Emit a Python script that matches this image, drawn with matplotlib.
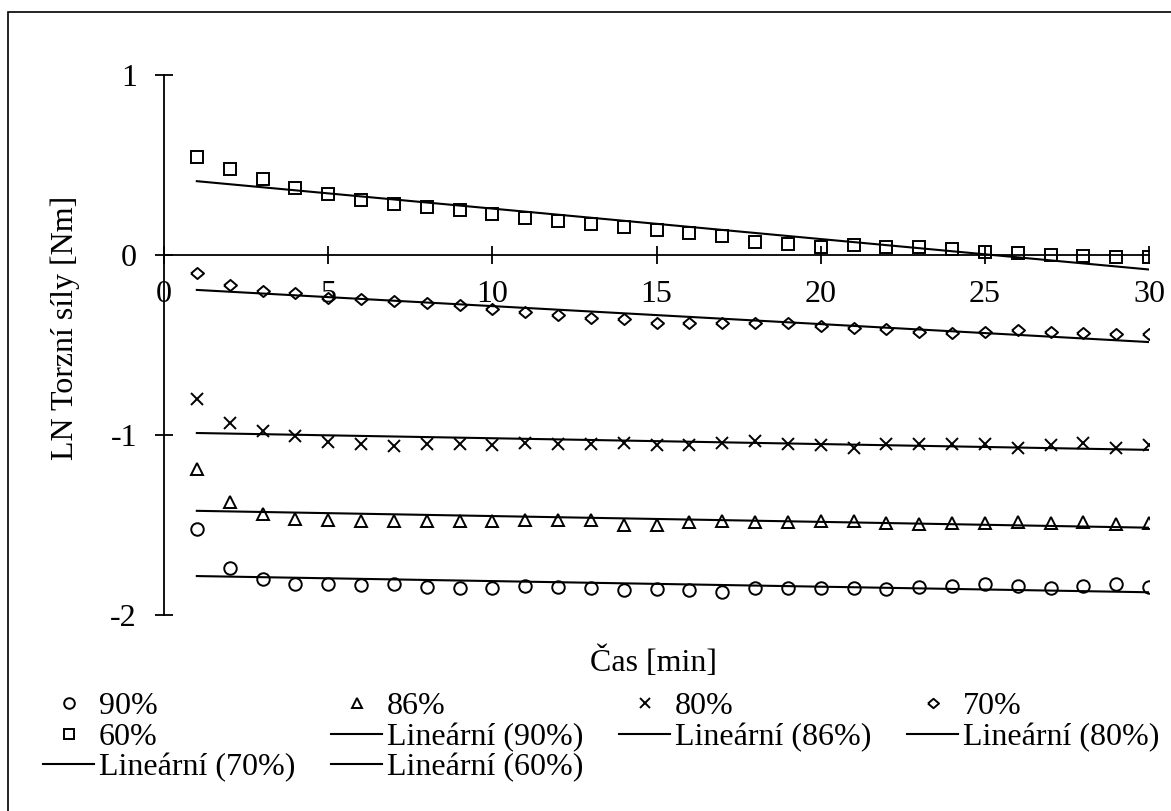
import numpy as np
import matplotlib
matplotlib.use("Agg")
from matplotlib import pyplot as plt
from matplotlib import patches

plt.rcParams['font.family'] = ['Liberation Serif', 'DejaVu Serif']
plt.rcParams['axes.unicode_minus'] = False

# time axis, minutes
cas = list(range(1, 31))

# LN of torsion force
s90 = [-1.52, -1.737, -1.80, -1.83, -1.825, -1.835, -1.83, -1.843, -1.848, -1.848,
       -1.84, -1.843, -1.848, -1.86, -1.857, -1.86, -1.872, -1.848, -1.85, -1.848,
       -1.848, -1.857, -1.843, -1.84, -1.83, -1.84, -1.848, -1.84, -1.83, -1.843]
s86 = [-1.19, -1.37, -1.44, -1.468, -1.474, -1.48, -1.477, -1.48, -1.48, -1.48,
       -1.474, -1.474, -1.474, -1.50, -1.50, -1.483, -1.477, -1.483, -1.483, -1.48,
       -1.48, -1.487, -1.494, -1.487, -1.487, -1.485, -1.487, -1.485, -1.494, -1.49]
s80 = [-0.80, -0.935, -0.98, -1.005, -1.037, -1.05, -1.06, -1.05, -1.05, -1.055,
       -1.046, -1.05, -1.05, -1.046, -1.055, -1.055, -1.044, -1.034, -1.05, -1.055,
       -1.07, -1.05, -1.05, -1.05, -1.05, -1.07, -1.055, -1.046, -1.07, -1.055]
s70 = [-0.098, -0.167, -0.20, -0.213, -0.237, -0.246, -0.256, -0.268, -0.28, -0.298,
       -0.317, -0.335, -0.348, -0.357, -0.376, -0.376, -0.376, -0.376, -0.38, -0.394,
       -0.404, -0.413, -0.428, -0.435, -0.428, -0.417, -0.428, -0.435, -0.44, -0.44]
s60 = [0.547, 0.48, 0.42, 0.37, 0.337, 0.306, 0.285, 0.267, 0.25, 0.226,
       0.208, 0.189, 0.17, 0.158, 0.139, 0.124, 0.106, 0.074, 0.06, 0.047,
       0.054, 0.047, 0.047, 0.032, 0.017, 0.009, 0.0, -0.006, -0.01, -0.01]

labels = ['90%', '86%', '80%', '70%', '60%']
series = [s90, s86, s80, s70, s60]

# flat diamond like the Excel one
diamond = [(-1, 0), (0, 0.85), (1, 0), (0, -0.85), (-1, 0)]
markers = ['o', '^', 'x', diamond, 's']
msizes = [9.0, 8.7, 9.0, 9.4, 8.9]

W, H = 1171, 811
fig = plt.figure(figsize=(W / 100, H / 100), dpi=100)
ax = fig.add_axes([164 / W, 1 - 615 / H, (1149 - 164) / W, (615 - 75) / H])

x = np.array(cas, dtype=float)
pts = {}
fits = {}
for lab, ys, m, ms in zip(labels, series, markers, msizes):
    pts[lab], = ax.plot(x, ys, linestyle='none', marker=m, ms=ms,
                        mfc='none', mec='black', mew=1.4, label=lab)
    k, q = np.polyfit(x, ys, 1)
    xx = np.array([x[0], x[-1]])
    fits[lab], = ax.plot(xx, k * xx + q, color='black', lw=1.5,
                         label='Lineární (%s)' % lab)

ax.set_xlim(0, 30)
ax.set_ylim(-2, 1)
ax.set_xticks(range(0, 31, 5))
ax.set_yticks([-2, -1, 0, 1])
ax.set_yticklabels(['-2', '-1', '0', '1'])

for side in ['top', 'right']:
    ax.spines[side].set_visible(False)
ax.spines['bottom'].set_position(('data', 0))
ax.spines['bottom'].set_zorder(1)
for side in ['left', 'bottom']:
    ax.spines[side].set_linewidth(1.3)
ax.tick_params(axis='both', direction='inout', length=13, width=1.3,
               labelsize=23)
ax.tick_params(axis='x', pad=11.5)
ax.tick_params(axis='y', pad=13)
ax.patch.set_visible(False)

fig.text(65 / W, 1 - 328 / H, 'LN Torzní síly [Nm]', rotation=90,
         ha='center', va='center', fontsize=23)
fig.text(653 / W, 1 - 662 / H, 'Čas [min]', ha='center', va='center',
         fontsize=23)

# Excel fills the legend row by row, matplotlib column by column
order = [pts['90%'], pts['60%'], fits['70%'],
         pts['86%'], fits['90%'], fits['60%'],
         pts['80%'], fits['86%'],
         pts['70%'], fits['80%']]
fig.legend(handles=order, labels=[h.get_label() for h in order],
           loc='upper left', bbox_to_anchor=(43 / W, 1 - 692 / H),
           ncol=4, frameon=False, fontsize=23, borderpad=0,
           borderaxespad=0, handlelength=1.6, handletextpad=0.15,
           columnspacing=1.12, labelspacing=0.04, markerscale=0.85)

# outer chart frame (cut at right and bottom)
fig.patches.append(patches.Rectangle((8 / W, -0.1), 1.2, 1.1 - 12 / H,
                                     transform=fig.transFigure, fill=False,
                                     lw=1.2, edgecolor='black'))

fig.savefig('out.png', dpi=100)
